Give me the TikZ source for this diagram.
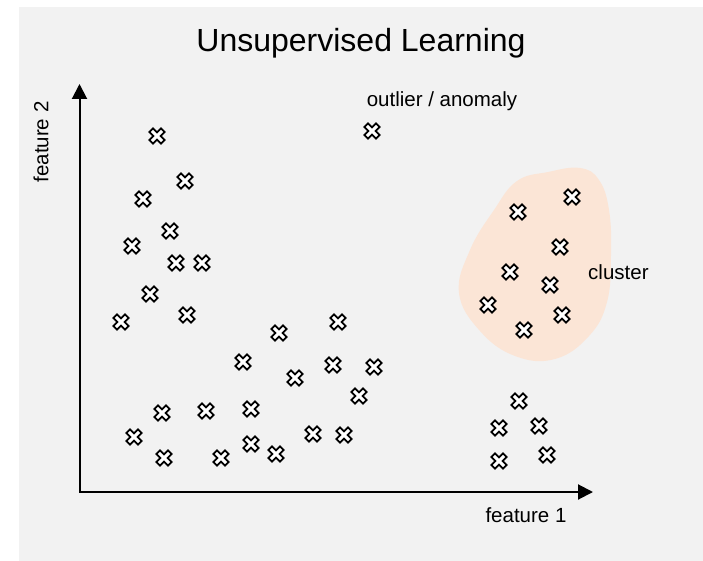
\documentclass[tikz,border=0pt]{standalone}
\usepackage{fontspec}
\setmainfont{Liberation Sans}
\definecolor{panelgray}{RGB}{242, 242, 242}
\definecolor{clusterpeach}{RGB}{251, 229, 214}
\usetikzlibrary{arrows.meta, positioning}

\begin{document}
\begin{tikzpicture}[
        x=1pt, y=-1pt,
        lbl/.style={font=\fontsize{20.5}{24}\selectfont, inner sep=0pt},
        axisline/.style={line width=2pt, {Triangle[length=15pt, width=15pt]}-{Triangle[length=15pt, width=15pt]}},
        sample/.pic={\draw[fill=white, line width=1.8pt, rotate=45]
            (8.2,2.6) -- (2.6,2.6) -- (2.6,8.2) -- (-2.6,8.2) -- (-2.6,2.6) -- (-8.2,2.6) --
            (-8.2,-2.6) -- (-2.6,-2.6) -- (-2.6,-8.2) -- (2.6,-8.2) -- (2.6,-2.6) -- (8.2,-2.6) -- cycle;},
      ]
      \useasboundingbox (0,0) rectangle (703,561);
      \fill[panelgray] (19,7) rectangle (712,570);
      \node[font=\fontsize{32}{36}\selectfont, anchor=base] (title) at (361,52) {Unsupervised Learning};

      % cluster region
      \fill[clusterpeach] plot[smooth cycle, tension=0.7] coordinates {
          (517,181) (548,172) (580,168) (599,180) (609,210) (611,255) (607,302)
          (589,336) (555,359) (515,356) (480,331) (459,293) (470,250) (494,210)};

      % axes
      \coordinate (origin) at (79.5,492);
      \coordinate (ytip) at (79.5,84);
      \coordinate (xtip) at (593,492);
      \draw[axisline] (ytip) -- (origin) -- (xtip);
      \node[lbl, rotate=90] (ylabel) at (41,142) {feature 2};
      \node[lbl, anchor=base] (xlabel) at (526,522) {feature 1};

      % data points
      \foreach \px/\py in {157/136, 185/181, 143/199, 170/231, 132/246, 176/263, 202/263,
          150/294, 121/322, 187/315, 279/333, 338/322, 243/362, 295/378, 333/365, 374/367,
          359/396, 162/413, 206/411, 251/409, 134/437, 164/458, 221/458, 251/444, 276/454,
          313/434, 344/435}
        \pic at (\px,\py) {sample};
      \foreach \px/\py in {518/212, 572/197, 560/247, 510/272, 550/285, 488/305, 562/315, 524/330}
        \pic at (\px,\py) {sample};
      \foreach \px/\py in {519/401, 499/428, 539/426, 499/461, 547/455}
        \pic at (\px,\py) {sample};

      % outlier
      \pic at (372,131) {sample};
      \node[lbl, anchor=base] (outlierlbl) at (442,107) {outlier / anomaly};
      \node[lbl, anchor=base west] (clusterlbl) at (588,279) {cluster};
\end{tikzpicture}
\end{document}
